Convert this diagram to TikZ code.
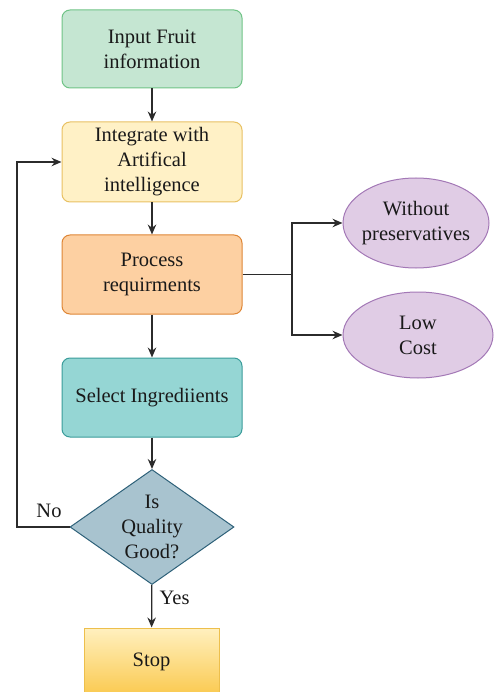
\documentclass[tikz,border=0pt]{standalone}
\usepackage{fontspec}
\setmainfont{Liberation Serif}
\usepackage{tikz}
\usetikzlibrary{positioning, arrows.meta, calc, shapes.geometric}

\definecolor{greenfill}{HTML}{C5E6D2}
\definecolor{greenline}{HTML}{6FC386}
\definecolor{yellowfill}{HTML}{FFF1C6}
\definecolor{yellowline}{HTML}{E8C163}
\definecolor{orangefill}{HTML}{FDD0A2}
\definecolor{orangeline}{HTML}{DE8636}
\definecolor{tealfill}{HTML}{95D6D4}
\definecolor{tealline}{HTML}{3A9C9A}
\definecolor{diafill}{HTML}{A8C3CF}
\definecolor{dialine}{HTML}{2E6179}
\definecolor{purplefill}{HTML}{E0CCE5}
\definecolor{purpleline}{HTML}{A378B6}
\definecolor{stoptop}{HTML}{FFF0BF}
\definecolor{stopbottom}{HTML}{FAC94E}
\definecolor{stopline}{HTML}{EDBF4C}
\definecolor{arrowgray}{HTML}{2B2B2B}

\begin{document}
\begin{tikzpicture}[
    x=1pt, y=-1pt,
    every node/.style={font=\fontsize{20.5}{25}\selectfont, align=center, text=black!90},
    box/.style={draw, rounded corners=8pt, line width=1pt, minimum width=180pt, minimum height=78pt, inner sep=2pt},
    blob/.style={draw, ellipse, line width=1pt, fill=purplefill, draw=purpleline, minimum width=146pt, minimum height=90pt, inner sep=0pt},
    arr/.style={-{Stealth[length=10pt, width=8.5pt]}, line width=1.3pt, draw=arrowgray}
]
\useasboundingbox (0,0) rectangle (494,692);

\node[box, fill=greenfill, draw=greenline] (input) at (152,49) {Input Fruit\\information};
\node[box, fill=yellowfill, draw=yellowline, minimum height=80pt] (ai) at (152,162) {Integrate with\\Artifical\\intelligence};
\node[box, fill=orangefill, draw=orangeline, minimum height=79pt] (process) at (152,274.5) {Process\\requirments};
\node[box, fill=tealfill, draw=tealline, minimum height=79pt] (select) at (152,397.5) {Select Ingrediients};
\node[draw, diamond, fill=diafill, draw=dialine, line width=1pt, aspect=1.43, minimum width=164pt, minimum height=115pt, inner sep=0pt] (quality) at (152,527) {Is\\Quality\\Good?};
\node[draw=stopline, line width=1pt, top color=stoptop, bottom color=stopbottom, minimum width=135pt, minimum height=68pt] (stop) at (151.5,662) {Stop};

\node[blob, inner xsep=-4pt] (nopres) at (416,223) {Without\\preservatives};
\node[blob, minimum width=150pt, minimum height=86pt] (lowcost) at (418,335) {Low\\Cost};

\coordinate (fork) at (292,274.5);
\coordinate (back) at (17,527);

\draw[arr] (input) -- (ai);
\draw[arr] (ai) -- (process);
\draw[arr] (process) -- (select);
\draw[arr] (select) -- (quality);
\draw[arr] (quality) -- node[right=4pt, pos=0.3] (yes) {Yes} (stop);

\draw[line width=1.3pt, draw=arrowgray] (process.east) -- (fork);
\draw[arr] (fork) |- (nopres.west);
\draw[arr] (fork) |- (lowcost.west);

\draw[arr] (quality.west) -- (back) |- (ai.west);
\node (no) at (49,511) {No};

\end{tikzpicture}
\end{document}
